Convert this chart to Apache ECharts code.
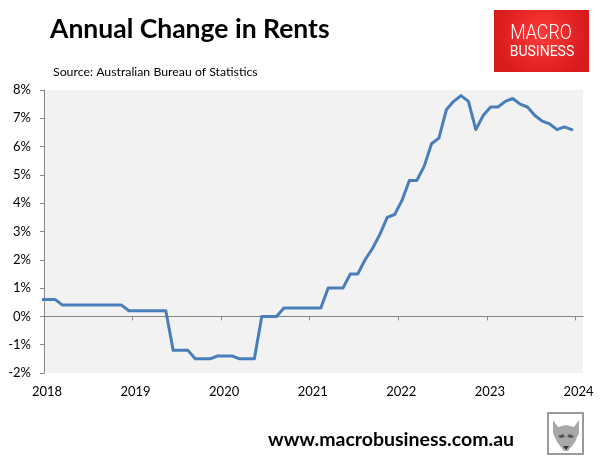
<!DOCTYPE html>
<html>
<head>
<meta charset="utf-8">
<script src="https://cdn.jsdelivr.net/npm/echarts@6/dist/echarts.min.js"></script>
<style>
html,body{margin:0;padding:0;background:#fff;}
#chart{width:601px;height:460px;}
</style>
</head>
<body>
<div id="chart"></div>
<script>
// Months (mid-month positions) and annual change in rents (%)
var months = [
  '2017-12',
  '2018-01','2018-02','2018-03','2018-04','2018-05','2018-06','2018-07','2018-08','2018-09','2018-10','2018-11','2018-12',
  '2019-01','2019-02','2019-03','2019-04','2019-05','2019-06','2019-07','2019-08','2019-09','2019-10','2019-11','2019-12',
  '2020-01','2020-02','2020-03','2020-04','2020-05','2020-06','2020-07','2020-08','2020-09','2020-10','2020-11','2020-12',
  '2021-01','2021-02','2021-03','2021-04','2021-05','2021-06','2021-07','2021-08','2021-09','2021-10','2021-11','2021-12',
  '2022-01','2022-02','2022-03','2022-04','2022-05','2022-06','2022-07','2022-08','2022-09','2022-10','2022-11','2022-12',
  '2023-01','2023-02','2023-03','2023-04','2023-05','2023-06','2023-07','2023-08','2023-09','2023-10','2023-11','2023-12'
];
var rents = [
  0.6,
  0.6, 0.6, 0.4, 0.4, 0.4, 0.4, 0.4, 0.4, 0.4, 0.4, 0.4, 0.2,
  0.2, 0.2, 0.2, 0.2, 0.2, -1.2, -1.2, -1.2, -1.5, -1.5, -1.5, -1.4,
  -1.4, -1.4, -1.5, -1.5, -1.5, 0.0, 0.0, 0.0, 0.3, 0.3, 0.3, 0.3,
  0.3, 0.3, 1.0, 1.0, 1.0, 1.5, 1.5, 2.0, 2.4, 2.9, 3.5, 3.6,
  4.1, 4.8, 4.8, 5.3, 6.1, 6.3, 7.3, 7.6, 7.8, 7.6, 6.6, 7.1,
  7.4, 7.4, 7.6, 7.7, 7.5, 7.4, 7.1, 6.9, 6.8, 6.6, 6.7, 6.6
];
var yearTicks = [2018, 2019, 2020, 2021, 2022, 2023, 2024];
var yTicks = [-2, -1, 0, 1, 2, 3, 4, 5, 6, 7, 8];
var titleText = 'Annual Change in Rents';
var sourceText = 'Source: Australian Bureau of Statistics';
var footerText = 'www.macrobusiness.com.au';

function monthToYear(m) {
  var p = m.split('-');
  return Number(p[0]) + (Number(p[1]) - 0.5) / 12;
}
var seriesData = months.map(function (m, i) { return [monthToYear(m), rents[i]]; });

var FONT = 'Lato, "Open Sans", sans-serif';
var chart = echarts.init(document.getElementById('chart'), null, {renderer: 'canvas'});
chart.setOption({
  animation: false,
  backgroundColor: '#ffffff',
  grid: {
    left: 44, top: 90, width: 539, height: 283,
    show: true, backgroundColor: '#f2f2f2', borderWidth: 0,
    containLabel: false
  },
  xAxis: [
    {
      type: 'value', min: 2018, max: 2024.085, position: 'bottom',
      axisLine: {show: true, onZero: true, lineStyle: {color: '#868686', width: 1}},
      axisTick: {show: true, customValues: yearTicks, length: 4, lineStyle: {color: '#868686'}},
      axisLabel: {show: false},
      splitLine: {show: false}
    },
    {
      type: 'value', min: 2018, max: 2024.085, position: 'bottom',
      axisLine: {show: false, onZero: false},
      axisTick: {show: false},
      splitLine: {show: false},
      axisLabel: {
        show: true, customValues: yearTicks, margin: 12,
        color: '#000', fontFamily: FONT, fontSize: 13,
        padding: [0, 0, 0, 6],
        formatter: function (v) { return String(Math.round(v)); }
      }
    }
  ],
  yAxis: {
    type: 'value', min: yTicks[0], max: yTicks[yTicks.length - 1], interval: 1,
    axisLine: {show: true, onZero: false, lineStyle: {color: '#868686', width: 1}},
    axisTick: {show: true, length: 4, lineStyle: {color: '#868686'}},
    splitLine: {show: false},
    axisLabel: {
      margin: 13, color: '#000', fontFamily: FONT, fontSize: 13,
      formatter: function (v) { return v + '%'; }
    }
  },
  series: [{
    type: 'line', xAxisIndex: 0, yAxisIndex: 0,
    data: seriesData, symbol: 'none', clip: true,
    lineStyle: {color: '#4a7ebb', width: 3, cap: 'round', join: 'round'}
  }],
  graphic: [
    {type: 'text', left: 50, top: 16, style: {text: titleText, font: 'bold 26.5px ' + FONT, fill: '#000'}},
    {type: 'text', left: 53, top: 66, style: {text: sourceText, font: '12.3px ' + FONT, fill: '#000'}},
    {type: 'rect', shape: {x: 494, y: 10, width: 95, height: 62},
      style: {fill: new echarts.graphic.RadialGradient(0.5, 0.4, 0.75, [
        {offset: 0, color: '#ff3a3a'}, {offset: 1, color: '#d81b1b'}])}},
    {type: 'text', x: 541, y: 34, scaleX: 0.85, originX: 0, originY: 0,
      style: {text: 'MACRO', font: '300 21px Roboto, sans-serif', fill: '#fff', textAlign: 'center', textVerticalAlign: 'middle'}},
    {type: 'text', x: 542, y: 52,
      style: {text: 'BUSINESS', font: '400 14px Roboto, sans-serif', fill: '#fff', textAlign: 'center', textVerticalAlign: 'middle'}},
    {type: 'text', left: 268, top: 430, style: {text: footerText, font: 'bold 19.5px ' + FONT, fill: '#000'}},
    {type: 'rect', shape: {x: 548, y: 413, width: 35, height: 41}, style: {fill: '#fff', stroke: '#9a9a9a', lineWidth: 2}},
    {type: 'polygon', shape: {points: [[553,420],[558,427],[566,425],[574,427],[579,420],[579,433],[575,442],[568,451],[564,451],[557,442],[553,433]]},
      style: {fill: '#a8a8a8'}},
    {type: 'polygon', shape: {points: [[558,436],[563,434],[565,437],[560,438]]}, style: {fill: '#555'}},
    {type: 'polygon', shape: {points: [[574,436],[569,434],[567,437],[572,438]]}, style: {fill: '#555'}},
    {type: 'polygon', shape: {points: [[563,446],[569,446],[566,450]]}, style: {fill: '#333'}}
  ]
});
</script>
</body>
</html>
